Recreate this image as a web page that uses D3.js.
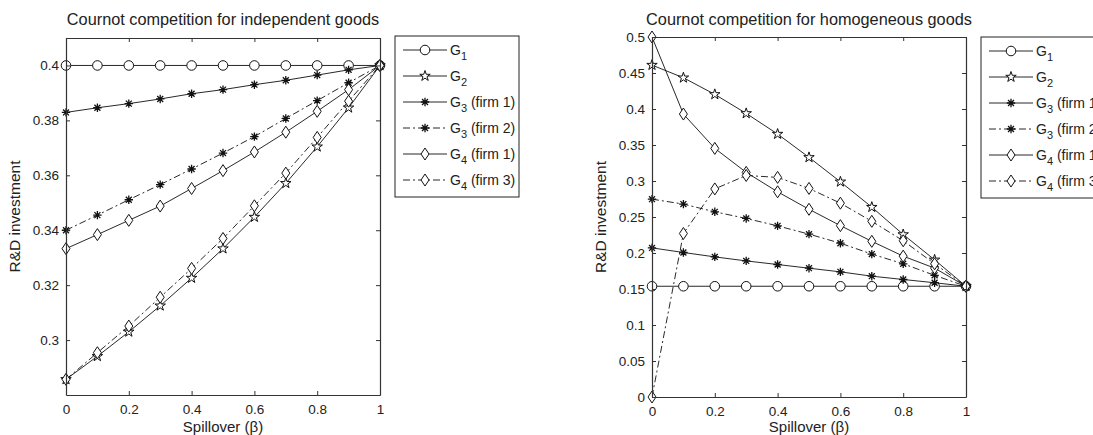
<!DOCTYPE html>
<html><head><meta charset="utf-8">
<script src="https://cdn.jsdelivr.net/npm/d3@7"></script>
<style>body{margin:0;background:#fff}svg{display:block}text{font-family:"Liberation Sans",Arial,sans-serif;fill:#222}</style>
</head><body><svg id="c" width="1093" height="435"></svg>
<script>
const beta = [0,0.1,0.2,0.3,0.4,0.5,0.6,0.7,0.8,0.9,1];
// Left panel: independent goods
const indG1 = [0.4,0.4,0.4,0.4,0.4,0.4,0.4,0.4,0.4,0.4,0.4];
const indG2 = [0.2857,0.2941,0.3030,0.3125,0.3226,0.3333,0.3448,0.3571,0.3704,0.3846,0.4];
const indG3f1 = [0.3829,0.3846,0.3861,0.3878,0.3897,0.3912,0.3930,0.3946,0.3965,0.3984,0.4];
const indG3f2 = [0.3400,0.3455,0.3511,0.3566,0.3623,0.3681,0.3741,0.3807,0.3872,0.3937,0.4];
const indG4f1 = [0.3333,0.3384,0.3436,0.3488,0.3552,0.3617,0.3685,0.3757,0.3833,0.3912,0.4];
const indG4f3 = [0.2857,0.2954,0.3051,0.3156,0.3261,0.3370,0.3489,0.3608,0.3738,0.3870,0.4];
// Right panel: homogeneous goods
const homG1 = [0.1538,0.1538,0.1538,0.1538,0.1538,0.1538,0.1538,0.1538,0.1538,0.1538,0.1538];
const homG2 = [0.4610,0.4434,0.4203,0.3939,0.3652,0.3328,0.2989,0.2637,0.2257,0.1905,0.1538];
const homG3f1 = [0.2071,0.2007,0.1946,0.1890,0.1840,0.1789,0.1738,0.1678,0.1632,0.1587,0.1538];
const homG3f2 = [0.2748,0.2679,0.2572,0.2480,0.2377,0.2262,0.2136,0.1985,0.1850,0.1690,0.1538];
const homG4f1 = [0.5,0.3930,0.3453,0.3120,0.2850,0.2607,0.2380,0.2162,0.1956,0.1790,0.1538];
const homG4f3 = [0,0.2271,0.2890,0.3077,0.3050,0.2897,0.2692,0.2440,0.2170,0.1850,0.1538];

const xTicks = [0,0.2,0.4,0.6,0.8,1];
const xTickLabels = ["0","0.2","0.4","0.6","0.8","1"];
const indYTicks = [0.3,0.32,0.34,0.36,0.38,0.4];
const indYTickLabels = ["0.3","0.32","0.34","0.36","0.38","0.4"];
const homYTicks = [0,0.05,0.1,0.15,0.2,0.25,0.3,0.35,0.4,0.45,0.5];
const homYTickLabels = ["0","0.05","0.1","0.15","0.2","0.25","0.3","0.35","0.4","0.45","0.5"];
const legendLabels = [["G","1",""],["G","2",""],["G","3"," (firm 1)"],["G","3"," (firm 2)"],["G","4"," (firm 1)"],["G","4"," (firm 3)"]];
const titles = ["Cournot competition for independent goods","Cournot competition for homogeneous goods"];
const xLabel = "Spillover (\u03b2)";
const yLabel = "R&D investment";

const styles = [
  {marker:"circle", dash:null},
  {marker:"star", dash:null},
  {marker:"asterisk", dash:null},
  {marker:"asterisk", dash:"7,3,2,3"},
  {marker:"diamond", dash:null},
  {marker:"diamond", dash:"7,3,2,3"}
];

const svg = d3.select("#c");
const LC = "#111";

function markerPath(type){
  if(type==="circle") return d3.symbol(d3.symbolCircle, 72)();
  if(type==="star") return d3.symbol(d3.symbolStar, 34)();
  if(type==="diamond") return "M0,-6L4,0L0,6L-4,0Z";
  const r=4.2, d=r*0.7071;
  return `M0,${-r}L0,${r}M${-r},0L${r},0M${-d},${-d}L${d},${d}M${-d},${d}L${d},${-d}`;
}
function drawMarker(g, type, x, y){
  const p = g.append("path").attr("d", markerPath(type)).attr("transform",`translate(${x},${y})`)
    .attr("stroke", LC).attr("stroke-width", 1);
  if(type==="asterisk") p.attr("fill","none").attr("stroke-width",1.3);
  else p.attr("fill","#fff");
}

function panel(cfg){
  const x = d3.scaleLinear().domain([0,1]).range([cfg.x0, cfg.x1]);
  const y = d3.scaleLinear().domain(cfg.ydom).range([cfg.y1, cfg.y0]);
  const g = svg.append("g");
  const line = d3.line().x((d,i)=>x(beta[i])).y(d=>y(d));
  cfg.series.forEach((s,k)=>{
    const st = styles[k];
    g.append("path").datum(s).attr("d", line).attr("fill","none").attr("stroke",LC)
      .attr("stroke-width",0.9).attr("stroke-dasharray", st.dash);
  });
  cfg.series.forEach((s,k)=>{
    s.forEach((v,i)=> drawMarker(g, styles[k].marker, x(beta[i]), y(v)));
  });
  const ax = svg.append("g").attr("class","axes");
  const bottom = d3.axisBottom(x).tickValues(xTicks).tickFormat((d,i)=>xTickLabels[i]).tickSizeInner(-4).tickSizeOuter(0).tickPadding(9);
  const top = d3.axisTop(x).tickValues(xTicks).tickFormat("").tickSizeInner(-4).tickSizeOuter(0);
  const left = d3.axisLeft(y).tickValues(cfg.yticks).tickFormat((d,i)=>cfg.ylabels[i]).tickSizeInner(-4).tickSizeOuter(0).tickPadding(7);
  const right = d3.axisRight(y).tickValues(cfg.yticks).tickFormat("").tickSizeInner(-4).tickSizeOuter(0);
  ax.append("g").attr("transform",`translate(0,${cfg.y1})`).call(bottom);
  ax.append("g").attr("transform",`translate(0,${cfg.y0})`).call(top);
  ax.append("g").attr("transform",`translate(${cfg.x0},0)`).call(left);
  ax.append("g").attr("transform",`translate(${cfg.x1},0)`).call(right);
  ax.selectAll(".domain").attr("stroke","#333").attr("stroke-width",1.2);
  ax.selectAll(".tick line").attr("stroke","#333");
  ax.selectAll(".tick text").attr("font-size",13.5).attr("fill","#222").attr("font-family","Liberation Sans, Arial, sans-serif");
  const cx = (cfg.x0+cfg.x1)/2;
  svg.append("text").attr("x",cx).attr("y",25).attr("text-anchor","middle").attr("font-size",16.3).text(cfg.title);
  svg.append("text").attr("x",cx).attr("y",432).attr("text-anchor","middle").attr("font-size",15).text(xLabel);
  svg.append("text").attr("transform",`translate(${cfg.ylx},${(cfg.y0+cfg.y1)/2}) rotate(-90)`).attr("text-anchor","middle").attr("font-size",15.5).text(yLabel);
  const lg = svg.append("g").attr("transform",`translate(${cfg.lx},${cfg.ly})`);
  lg.append("rect").attr("x",0).attr("y",0).attr("width",124).attr("height",161).attr("fill","#fff").attr("stroke","#222").attr("stroke-width",1);
  legendLabels.forEach((lab,k)=>{
    const yy = 14 + k*26;
    lg.append("line").attr("x1",8).attr("x2",52).attr("y1",yy).attr("y2",yy).attr("stroke",LC).attr("stroke-width",0.9).attr("stroke-dasharray",styles[k].dash);
    drawMarker(lg, styles[k].marker, 30, yy);
    const t = lg.append("text").attr("x",55).attr("y",yy+5).attr("font-size",14);
    t.append("tspan").text(lab[0]);
    t.append("tspan").attr("dy",5).attr("font-size",11).text(lab[1]);
    t.append("tspan").attr("dy",-5).attr("font-size",14).text(lab[2]);
  });
}

panel({x0:66,x1:380,y0:38,y1:395,ydom:[0.28,0.41],yticks:indYTicks,ylabels:indYTickLabels,
  series:[indG1,indG2,indG3f1,indG3f2,indG4f1,indG4f3],title:titles[0],ylx:20,lx:395,ly:36});
panel({x0:652,x1:966,y0:37,y1:397,ydom:[0,0.5],yticks:homYTicks,ylabels:homYTickLabels,
  series:[homG1,homG2,homG3f1,homG3f2,homG4f1,homG4f3],title:titles[1],ylx:606,lx:981,ly:37});
</script></body></html>
